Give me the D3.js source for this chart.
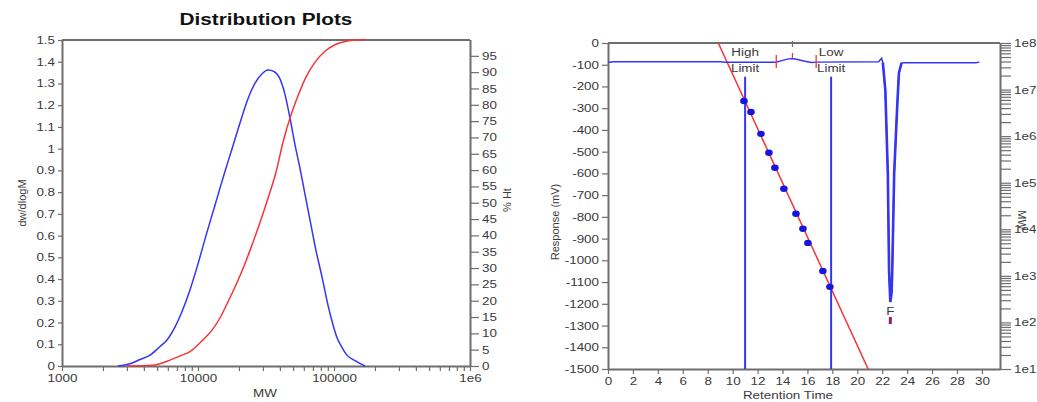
<!DOCTYPE html>
<html lang="en">
<head>
  <meta charset="UTF-8">
  <title>Distribution Plots</title>
  <script src="https://cdn.jsdelivr.net/npm/d3@7"></script>
  <style>
    body { margin: 0; background: #fff; }
    svg { font-family: "Liberation Sans", Arial, sans-serif; }
    .axis path { stroke: #6e6e6e; stroke-width: 2; }
    .axis line { stroke: #6e6e6e; stroke-width: 1.2; }
    .axis text { fill: #3a3a3a; font-size: 11px; }
    .title { fill: #111; font-size: 17px; font-weight: bold; }
    .label { fill: #3a3a3a; font-size: 11px; }
  </style>
</head>
<body>
<div id="chart"></div>
<script>
  // --- MW distribution (left panel) ---
  var distMw = [2580, 3160, 3750, 4440, 5260, 5920, 6780, 7620, 8730, 10000, 11450, 13330, 15520,
    17800, 20400, 23300, 26200, 29600, 32700, 36200, 39400, 43600, 47500, 51600, 56200, 61200,
    66700, 73800, 81600, 90300, 98300, 105300, 114600, 124700, 142700, 169000];
  var distDw = [0, 0.01, 0.03, 0.05, 0.09, 0.12, 0.18, 0.25, 0.35, 0.47, 0.6, 0.74, 0.88,
    1.0, 1.12, 1.23, 1.30, 1.345, 1.362, 1.355, 1.33, 1.25, 1.14, 1.02, 0.91, 0.79,
    0.67, 0.53, 0.41, 0.28, 0.19, 0.13, 0.085, 0.05, 0.025, 0];

  var cumMw = [3000, 4650, 5260, 6220, 7380, 8730, 10890, 12690, 14500, 16600, 19000, 21800,
    24900, 28600, 32700, 37500, 42200, 47500, 54300, 62200, 72400, 85800, 101700, 120600,
    142700, 170000];
  var cumPct = [0, 0.2, 0.7, 1.8, 3.1, 4.4, 8.0, 11, 14.7, 19.6, 24.8, 30.6,
    37, 44, 51.4, 59.4, 68.6, 76, 82.7, 88.5, 93, 96.4, 98.4, 99.4,
    99.8, 100];

  var dwTicks = d3.range(0, 16).map(function (i) { return i / 10; });
  var pctTicks = d3.range(0, 100, 5);
  var mwDecades = [1e3, 1e4, 1e5, 1e6];
  var mwDecadeLabels = ["1000", "10000", "100000", "1e6"];

  // --- chromatogram (right panel) ---
  var rtTimes = [0, 0.4, 9.0, 9.4, 13.5, 14.0, 14.5, 14.8, 15.2, 15.8, 16.3, 16.7, 21.7, 21.95,
    22.05, 22.25, 22.45, 22.55, 22.65, 22.75, 22.8, 22.96, 23.2, 23.34, 23.55, 23.8, 29.5, 29.8];
  var rtResponse = [-90, -86, -86, -88, -88, -80, -73, -71, -76, -84, -90, -88, -86, -70,
    -90, -217, -600, -1050, -1192, -1150, -1060, -600, -295, -138, -92, -91, -91, -88];

  // calibration standards and fitted line log10(MW) = a + b * t
  var calTimes = [10.91, 11.47, 12.27, 12.91, 13.39, 14.11, 15.08, 15.64, 16.04, 17.24, 17.80];
  var calMw = [5.69e6, 3.3e6, 1.12e6, 4.4e5, 2.1e5, 7.4e4, 2.15e4, 1.03e4, 5.1e3, 1.27e3, 5.8e2];
  var calFit = [13.154, -0.5824];
  var calRange = [6, 22];

  var peakTimes = [13.5, 14.8, 16.7];   // start, apex, end
  var limitTimes = [11.0, 17.9];
  var limitNames = ["High", "Low"];
  var dipTime = 22.65, dipValue = -1192, dipLabel = "F";

  var rtTicks = d3.range(0, 31, 2);
  var respTicks = d3.range(0, -1501, -100);
  var mwAxisDecades = [1e1, 1e2, 1e3, 1e4, 1e5, 1e6, 1e7, 1e8];
  var mwAxisLabels = ["1e1", "1e2", "1e3", "1e4", "1e5", "1e6", "1e7", "1e8"];

  var blue = "#3535f5", red = "#f53535", grey = "#6e6e6e";
  var textWiden = 1.22;

  var svg = d3.select("#chart")
    .append("svg")
    .attr("width", 1037)
    .attr("height", 402);

  // log ticks 1..9 within each decade
  function logTicks(lo, hi) {
    var t = [];
    for (var p = lo; p < hi; p *= 10) {
      for (var k = 1; k < 10; k++) t.push(p * k);
    }
    t.push(hi);
    return t;
  }

  // ================= left panel =================
  var xL = d3.scaleLog().domain([1e3, 1e6]).range([62, 470]);
  var yL = d3.scaleLinear().domain([0, 1.5]).range([366, 40]);
  var yP = d3.scaleLinear().domain([0, 100]).range([366, 39.5]);

  svg.append("text").attr("class", "title")
    .attr("x", 266).attr("y", 25).attr("text-anchor", "middle")
    .text("Distribution Plots");

  svg.append("line")
    .attr("x1", 62).attr("x2", 470).attr("y1", 40).attr("y2", 40)
    .attr("stroke", grey).attr("stroke-width", 2);

  svg.append("g").attr("class", "axis")
    .attr("transform", "translate(0,366)")
    .call(d3.axisBottom(xL)
      .tickValues(logTicks(1e3, 1e6))
      .tickSize(5).tickSizeOuter(0)
      .tickFormat(function (d) {
        var i = mwDecades.indexOf(d);
        return i >= 0 ? mwDecadeLabels[i] : "";
      }));

  svg.append("g").attr("class", "axis")
    .attr("transform", "translate(62,0)")
    .call(d3.axisLeft(yL).tickValues(dwTicks).tickSize(4).tickSizeOuter(0)
      .tickFormat(function (d) { return String(d); }));

  svg.append("g").attr("class", "axis")
    .attr("transform", "translate(470,0)")
    .call(d3.axisRight(yP).tickValues(pctTicks).tickSize(9).tickSizeOuter(0));

  var distLine = d3.line()
    .curve(d3.curveMonotoneX)
    .x(function (d) { return xL(d[0]); })
    .y(function (d) { return yL(d[1]); });
  svg.append("path")
    .attr("d", distLine(d3.zip(distMw, distDw)))
    .attr("fill", "none").attr("stroke", blue).attr("stroke-width", 1.5);

  var cumLine = d3.line()
    .curve(d3.curveMonotoneX)
    .x(function (d) { return xL(d[0]); })
    .y(function (d) { return yP(d[1]); });
  svg.append("path")
    .attr("d", cumLine(d3.zip(cumMw, cumPct)))
    .attr("fill", "none").attr("stroke", red).attr("stroke-width", 1.5);

  svg.append("text").attr("class", "label")
    .attr("x", 265).attr("y", 397).attr("text-anchor", "middle").text("MW");
  svg.append("text").attr("class", "label rot")
    .attr("transform", "translate(26,203) rotate(-90)")
    .attr("text-anchor", "middle").attr("font-size", "12px").text("dw/dlogM");
  svg.append("text").attr("class", "label rot")
    .attr("transform", "translate(511,200) rotate(-90)")
    .attr("text-anchor", "middle").attr("font-size", "13px").text("% Ht");

  // ================= right panel =================
  var xR = d3.scaleLinear().domain([0, 31.45]).range([608, 1000]);
  var yR = d3.scaleLinear().domain([-1500, 0]).range([369, 43]);
  var yM = d3.scaleLog().domain([1e1, 1e8]).range([369, 43]);

  svg.append("clipPath").attr("id", "clipR")
    .append("rect").attr("x", 608).attr("y", 43).attr("width", 392).attr("height", 326);

  svg.append("line")
    .attr("x1", 608).attr("x2", 1000).attr("y1", 43).attr("y2", 43)
    .attr("stroke", grey).attr("stroke-width", 2);
  // apex marker on the top edge
  svg.append("line")
    .attr("x1", xR(peakTimes[1])).attr("x2", xR(peakTimes[1]))
    .attr("y1", 41).attr("y2", 47)
    .attr("stroke", grey).attr("stroke-width", 1.2);

  svg.append("g").attr("class", "axis")
    .attr("transform", "translate(0,369)")
    .call(d3.axisBottom(xR).tickValues(rtTicks).tickSize(5).tickSizeOuter(0));

  svg.append("g").attr("class", "axis")
    .attr("transform", "translate(608,0)")
    .call(d3.axisLeft(yR).tickValues(respTicks).tickSize(6).tickSizeOuter(0)
      .tickFormat(function (d) { return String(d); }));

  svg.append("g").attr("class", "axis")
    .attr("transform", "translate(1000,0)")
    .call(d3.axisRight(yM).tickValues(logTicks(1e1, 1e8)).tickSize(11).tickSizeOuter(0)
      .tickFormat(function (d) {
        var i = mwAxisDecades.indexOf(d);
        return i >= 0 ? mwAxisLabels[i] : "";
      }));

  // calibration curve
  var calLine = d3.line()
    .x(function (t) { return xR(t); })
    .y(function (t) { return yM(Math.pow(10, calFit[0] + calFit[1] * t)); });
  svg.append("path")
    .attr("clip-path", "url(#clipR)")
    .attr("d", calLine(calRange))
    .attr("fill", "none").attr("stroke", red).attr("stroke-width", 1.5);

  // limit lines
  limitTimes.forEach(function (t, i) {
    svg.append("line")
      .attr("x1", xR(t)).attr("x2", xR(t))
      .attr("y1", yR(-155)).attr("y2", yR(-1500))
      .attr("stroke", blue).attr("stroke-width", 2);
    svg.append("text").attr("class", "label")
      .attr("x", xR(t)).attr("y", 56).attr("text-anchor", "middle").text(limitNames[i]);
    svg.append("text").attr("class", "label")
      .attr("x", xR(t)).attr("y", 72).attr("text-anchor", "middle").text("Limit");
  });

  // detector trace
  var traceLine = d3.line()
    .x(function (d) { return xR(d[0]); })
    .y(function (d) { return yR(d[1]); });
  var trace = d3.zip(rtTimes, rtResponse);
  svg.append("path")
    .attr("d", traceLine(trace))
    .attr("fill", "none").attr("stroke", blue).attr("stroke-width", 1.5);
  svg.append("path")
    .attr("d", traceLine(trace.filter(function (d) { return d[0] > 22 && d[0] < 23.6; })))
    .attr("fill", "none").attr("stroke", blue).attr("stroke-width", 2.6);

  // integration markers around the small peak
  [peakTimes[0], peakTimes[2]].forEach(function (t) {
    svg.append("line")
      .attr("x1", xR(t)).attr("x2", xR(t))
      .attr("y1", yR(-55)).attr("y2", yR(-115))
      .attr("stroke", red).attr("stroke-width", 1.3);
  });
  svg.append("line")
    .attr("x1", xR(peakTimes[1])).attr("x2", xR(peakTimes[1]))
    .attr("y1", yR(-46)).attr("y2", yR(-68))
    .attr("stroke", red).attr("stroke-width", 1.3);

  // calibration standards
  svg.append("g")
    .selectAll("ellipse")
    .data(d3.zip(calTimes, calMw))
    .enter()
    .append("ellipse")
    .attr("cx", function (d) { return xR(d[0]); })
    .attr("cy", function (d) { return yM(d[1]); })
    .attr("rx", 3.8).attr("ry", 3.2)
    .attr("fill", "#1515e0");

  // label and marker beneath the large negative peak
  svg.append("text").attr("class", "label")
    .attr("x", xR(dipTime)).attr("y", yR(dipValue) + 13)
    .attr("text-anchor", "middle").attr("font-size", "10px").text(dipLabel);
  svg.append("line")
    .attr("x1", xR(dipTime)).attr("x2", xR(dipTime))
    .attr("y1", yR(dipValue) + 15).attr("y2", yR(dipValue) + 22)
    .attr("stroke", "#8a1f6a").attr("stroke-width", 3);

  svg.append("text").attr("class", "label")
    .attr("x", 788).attr("y", 399).attr("text-anchor", "middle")
    .attr("font-size", "13px").text("Retention Time");
  svg.append("text").attr("class", "label rot")
    .attr("transform", "translate(559,222) rotate(-90)")
    .attr("text-anchor", "middle").attr("font-size", "12.5px").text("Response (mV)");
  svg.append("text").attr("class", "label rot")
    .attr("transform", "translate(1018,220) rotate(90)")
    .attr("text-anchor", "middle").text("MW");

  // widen the horizontal labels a little (the plot export is stretched sideways)
  svg.selectAll("text").filter(function () { return !this.classList.contains("rot"); })
    .each(function () {
      var t = d3.select(this);
      var x = +(t.attr("x") || 0);
      t.attr("x", x / textWiden)
        .attr("transform", "scale(" + textWiden + ",1)");
    });
</script>
</body>
</html>
